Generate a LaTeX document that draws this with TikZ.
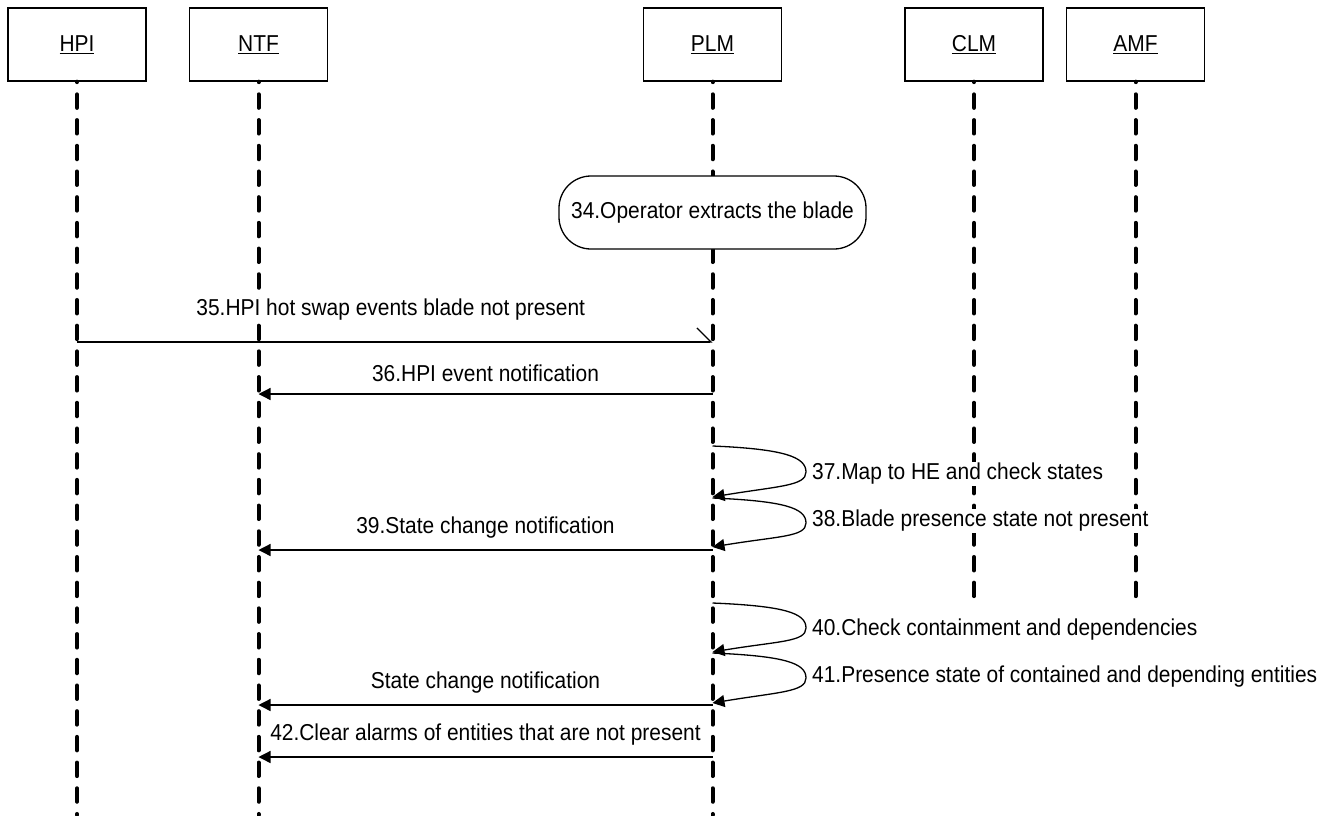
\documentclass[tikz,border=0pt]{standalone}
\usepackage{fontspec}
\setmainfont[FakeStretch=0.91]{Liberation Sans}
\usetikzlibrary{arrows.meta}
\begin{document}
\begin{tikzpicture}[x=1pt,y=-1pt,
  txt/.style={font=\fontsize{23}{27}\selectfont, inner sep=1pt, fill=white},
  hdr/.style={draw, fill=white, line width=1.3pt, minimum width=138pt, minimum height=73pt, font=\fontsize{23}{27}\selectfont},
  life/.style={line width=4pt, line cap=round, dash pattern=on 13.5pt off 12.2pt, dash phase=13},
  msg/.style={line width=1.3pt, -{Triangle[length=12pt,width=12pt]}},
  async/.style={line width=1.3pt, -{Straight Barb[left,length=14pt,width=28pt]}},
  action/.style={draw, fill=white, line width=1.3pt, rounded corners=32pt, minimum width=307pt, minimum height=73pt, font=\fontsize{23}{27}\selectfont}
]
\useasboundingbox (0,0) rectangle (1327,815);
\fill[white] (0,0) rectangle (1327,815);

% headers
\node[hdr] (hpi) at (77,44.5) {\underline{HPI}};
\node[hdr] (ntf) at (258.5,44.5) {\underline{NTF}};
\node[hdr] (plm) at (712.5,44.5) {\underline{PLM}};
\node[hdr] (clm) at (974,44.5) {\underline{CLM}};
\node[hdr] (amf) at (1135.5,44.5) {\underline{AMF}};

% lifeline ends
\coordinate (hpiE) at (hpi |- 0,815);
\coordinate (ntfE) at (ntf |- 0,815);
\coordinate (plmE) at (plm |- 0,815);
\coordinate (clmE) at (clm |- 0,607);
\coordinate (amfE) at (amf |- 0,607);

\draw[life] (hpi.south) -- (hpiE);
\draw[life] (ntf.south) -- (ntfE);
\draw[life] (plm.south) -- (plmE);
\draw[life] (clm.south) -- (clmE);
\draw[life] (amf.south) -- (amfE);

% action
\node[action] (act34) at (712.5,212.5) {34.Operator extracts the blade};

% message points
\coordinate (h35) at (hpi |- 0,342);
\coordinate (p35) at (plm |- 0,342);
\coordinate (p36) at (plm |- 0,394);
\coordinate (n36) at (ntf |- 0,394);
\coordinate (p37a) at (plm |- 0,446);
\coordinate (r37) at (806,472);
\coordinate (p37b) at (plm |- 0,497);
\coordinate (p38a) at (plm |- 0,498);
\coordinate (r38) at (806,523);
\coordinate (p38b) at (plm |- 0,547);
\coordinate (p39) at (plm |- 0,550);
\coordinate (n39) at (ntf |- 0,550);
\coordinate (p40a) at (plm |- 0,603);
\coordinate (r40) at (806,628);
\coordinate (p40b) at (plm |- 0,652);
\coordinate (p41a) at (plm |- 0,653);
\coordinate (r41) at (806,678);
\coordinate (p41b) at (plm |- 0,703);
\coordinate (pS) at (plm |- 0,705);
\coordinate (nS) at (ntf |- 0,705);
\coordinate (p42) at (plm |- 0,757);
\coordinate (n42) at (ntf |- 0,757);

\draw[async] (h35) -- node[txt, midway, xshift=-4pt, yshift=32pt] (l35) {35.HPI hot swap events blade not present} (p35);
\draw[msg] (p36) -- node[txt, midway, yshift=21pt] (l36) {36.HPI event notification} (n36);

\draw[msg] (p37a) .. controls +(72,3) and +(0,-15) .. (r37) .. controls +(0,14) and +(66,-11) .. (p37b);
\node[txt, anchor=west] (l37) at (811,474) {37.Map to HE and check states};
\draw[msg] (p38a) .. controls +(72,3) and +(0,-15) .. (r38) .. controls +(0,14) and +(66,-11) .. (p38b);
\node[txt, anchor=west] (l38) at (811,521) {38.Blade presence state not present};

\draw[msg] (p39) -- node[txt, midway, yshift=22pt] (l39) {39.State change notification} (n39);

\draw[msg] (p40a) .. controls +(72,3) and +(0,-15) .. (r40) .. controls +(0,14) and +(66,-11) .. (p40b);
\node[txt, anchor=west] (l40) at (811,630) {40.Check containment and dependencies};
\draw[msg] (p41a) .. controls +(72,3) and +(0,-15) .. (r41) .. controls +(0,14) and +(66,-11) .. (p41b);
\node[txt, anchor=west] (l41) at (811,677) {41.Presence state of contained and depending entities};

\draw[msg] (pS) -- node[txt, midway, yshift=22pt] (lS) {State change notification} (nS);
\draw[msg] (p42) -- node[txt, midway, yshift=22pt] (l42) {42.Clear alarms of entities that are not present} (n42);
\end{tikzpicture}
\end{document}
